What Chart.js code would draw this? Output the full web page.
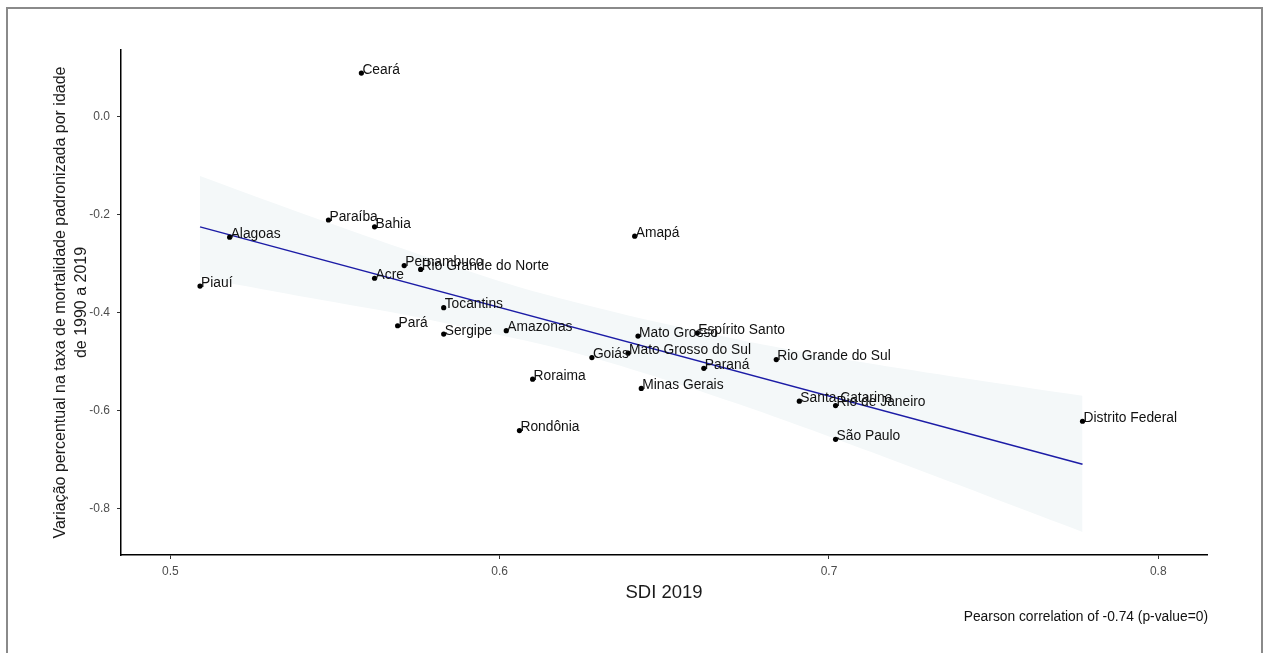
<!DOCTYPE html>
<html>
<head>
<meta charset="utf-8">
<script src="https://cdn.jsdelivr.net/npm/chart.js@4/dist/chart.umd.min.js"></script>
<style>
  html, body { margin: 0; padding: 0; background: #fff; }
  #wrap { width: 1267px; height: 653px; position: relative; }
</style>
</head>
<body>
<div id="wrap"><canvas id="sdiChart" width="1267" height="653"></canvas></div>
<script>
// estados e valores
var estados = ["Ceará", "Paraíba", "Bahia", "Alagoas", "Amapá", "Pernambuco", "Rio Grande do Norte",
    "Acre", "Piauí", "Tocantins", "Pará", "Sergipe", "Amazonas", "Mato Grosso", "Espírito Santo",
    "Goiás", "Mato Grosso do Sul", "Paraná", "Rio Grande do Sul", "Minas Gerais", "Santa Catarina",
    "Rio de Janeiro", "São Paulo", "Roraima", "Rondônia", "Distrito Federal"];
var sdi = [0.558, 0.548, 0.562, 0.518, 0.641, 0.571, 0.576,
    0.562, 0.509, 0.583, 0.569, 0.583, 0.602, 0.642, 0.660,
    0.628, 0.639, 0.662, 0.684, 0.643, 0.691,
    0.702, 0.702, 0.610, 0.606, 0.777];
var variacao = [0.089, -0.211, -0.225, -0.246, -0.244, -0.304, -0.312,
    -0.330, -0.346, -0.390, -0.427, -0.444, -0.437, -0.448, -0.442,
    -0.492, -0.483, -0.514, -0.496, -0.555, -0.581,
    -0.590, -0.659, -0.536, -0.641, -0.622];

// reta de regressao (extremos)
var retaX = [0.509, 0.777];
var retaY = [-0.225, -0.710];

// faixa de confianca
var faixaX = [0.509, 0.539, 0.570, 0.600, 0.620, 0.646, 0.676, 0.706, 0.737, 0.777];
var faixaSup = [-0.121, -0.195, -0.268, -0.336, -0.374, -0.417, -0.460, -0.497, -0.530, -0.570];
var faixaInf = [-0.329, -0.366, -0.403, -0.446, -0.477, -0.528, -0.595, -0.668, -0.746, -0.848];

var ticksX = [0.5, 0.6, 0.7, 0.8];
var ticksY = [0.0, -0.2, -0.4, -0.6, -0.8];

var pontos = sdi.map(function (v, i) { return { x: v, y: variacao[i] }; });
var reta = retaX.map(function (v, i) { return { x: v, y: retaY[i] }; });
var sup = faixaX.map(function (v, i) { return { x: v, y: faixaSup[i] }; });
var inf = faixaX.map(function (v, i) { return { x: v, y: faixaInf[i] }; });

var fonte = '"Liberation Sans", Arial, sans-serif';

// nomes dos estados, moldura e nota de rodape
var extras = {
    id: 'extras',
    beforeDraw: function (chart) {
        var c = chart.ctx;
        c.save();
        c.fillStyle = '#fff';
        c.fillRect(0, 0, chart.width, chart.height);
        c.strokeStyle = '#8a8a8a';
        c.lineWidth = 2;
        c.strokeRect(7, 8, 1255, 700);
        c.restore();
    },
    afterDatasetsDraw: function (chart) {
        var c = chart.ctx;
        var sx = chart.scales.x, sy = chart.scales.y;
        c.save();
        c.font = '13.8px ' + fonte;
        c.fillStyle = '#111';
        c.textAlign = 'left';
        c.textBaseline = 'middle';
        estados.forEach(function (nome, i) {
            c.fillText(nome, sx.getPixelForValue(sdi[i]) + 1, sy.getPixelForValue(variacao[i]) - 3);
        });
        c.font = '13.8px ' + fonte;
        c.textAlign = 'right';
        c.fillText('Pearson correlation of -0.74 (p-value=0)', 1208, 617);
        c.restore();
    }
};

var ctx = document.getElementById('sdiChart').getContext('2d');
var chart = new Chart(ctx, {
    type: 'scatter',
    data: {
        datasets: [{
            // pontos por cima
            data: pontos,
            order: 0,
            pointRadius: 2.6,
            pointBackgroundColor: '#000',
            pointBorderColor: '#000',
            pointBorderWidth: 0
        }, {
            data: reta,
            order: 1,
            showLine: true,
            pointRadius: 0,
            borderWidth: 1.5,
            borderColor: '#1c1ca6',
            fill: false
        }, {
            data: sup,
            order: 2,
            showLine: true,
            pointRadius: 0,
            borderWidth: 0,
            borderColor: 'rgba(0,0,0,0)',
            backgroundColor: '#f4f8f9',
            fill: '+1',
            tension: 0.3
        }, {
            data: inf,
            order: 3,
            showLine: true,
            pointRadius: 0,
            borderWidth: 0,
            borderColor: 'rgba(0,0,0,0)',
            fill: false,
            tension: 0.3
        }]
    },
    options: {
        responsive: false,
        animation: false,
        layout: { padding: { left: 0, top: 50, right: 60, bottom: 0 } },
        plugins: {
            legend: { display: false },
            tooltip: { enabled: false }
        },
        scales: {
            x: {
                type: 'linear',
                min: 0.485,
                max: 0.8148,
                afterFit: function (s) { s.height = 98; },
                afterBuildTicks: function (s) { s.ticks = ticksX.map(function (v) { return { value: v }; }); },
                border: { display: true, color: '#000', width: 1.5 },
                grid: { display: true, drawOnChartArea: false, drawTicks: true, tickLength: 4, color: '#333' },
                ticks: {
                    padding: 5,
                    color: '#4d4d4d',
                    font: { family: fonte, size: 12 },
                    callback: function (v) { return Number(v).toFixed(1); }
                },
                title: {
                    display: true,
                    text: 'SDI 2019',
                    color: '#1a1a1a',
                    font: { family: fonte, size: 18.5 },
                    padding: { top: 0, bottom: 49 }
                }
            },
            y: {
                type: 'linear',
                min: -0.8952,
                max: 0.1362,
                afterFit: function (s) { s.width = 121; },
                afterBuildTicks: function (s) { s.ticks = ticksY.map(function (v) { return { value: v }; }); },
                border: { display: true, color: '#000', width: 1.5 },
                grid: { display: true, drawOnChartArea: false, drawTicks: true, tickLength: 4, color: '#333' },
                ticks: {
                    padding: 7,
                    color: '#4d4d4d',
                    font: { family: fonte, size: 12 },
                    callback: function (v) { return Number(v).toFixed(1); }
                },
                title: {
                    display: true,
                    text: ['Variação percentual na taxa de mortalidade padronizada por idade', 'de 1990 a 2019'],
                    color: '#1a1a1a',
                    font: { family: fonte, size: 16, lineHeight: 1.3 },
                    padding: { top: 50 }
                }
            }
        }
    },
    plugins: [extras]
});
</script>
</body>
</html>
